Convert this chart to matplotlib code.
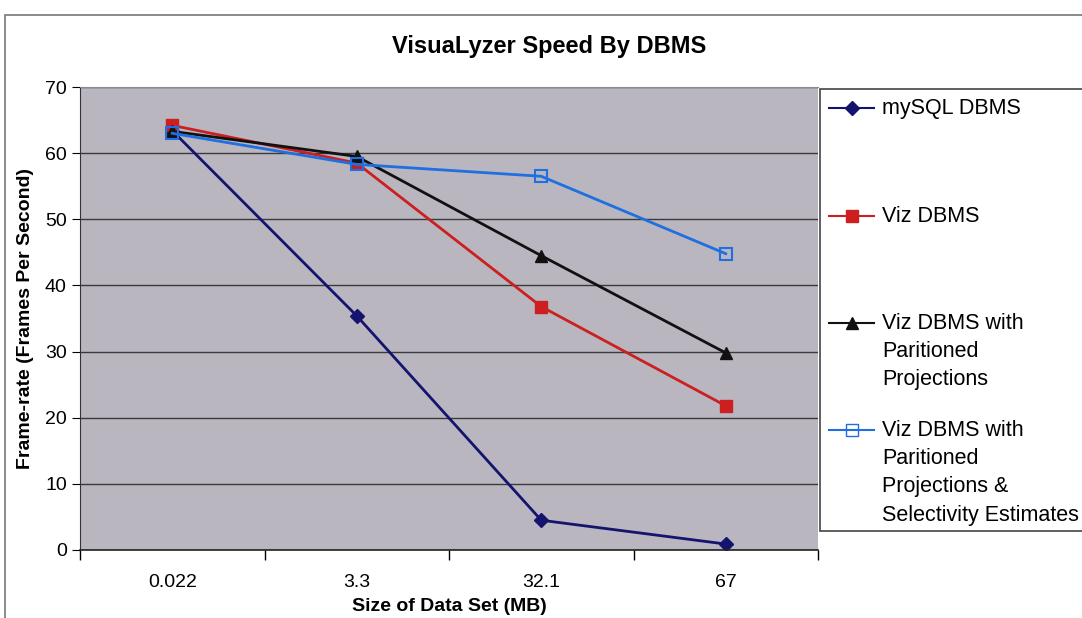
import matplotlib.pyplot as plt
from matplotlib.lines import Line2D
from matplotlib.patches import Rectangle
import numpy as np

plt.rcParams['font.family'] = ['Liberation Sans', 'DejaVu Sans']

# data
sizes = ['0.022', '3.3', '32.1', '67']
mysql = [63.4, 35.4, 4.5, 0.9]
viz = [64.2, 58.5, 36.8, 21.8]
viz_part = [63.3, 59.5, 44.5, 29.8]
viz_sel = [63.0, 58.3, 56.5, 44.8]
labels = ['mySQL DBMS', 'Viz DBMS',
          'Viz DBMS with\nParitioned\nProjections',
          'Viz DBMS with\nParitioned\nProjections &\nSelectivity Estimates']
colors = ['#14146e', '#cc1f1f', '#111111', '#1f6fe0']
markers = ['D', 's', '^', 's']

W, H = 1082, 618
fig = plt.figure(figsize=(W / 100, H / 100), dpi=100)

# outer chart frame
fig.patches.append(Rectangle((5 / W, -0.05), 1.1, 1 - 15 / H + 0.05, transform=fig.transFigure,
                             fill=False, edgecolor='#777777', lw=1.2))

ax = fig.add_axes([80 / W, 1 - 550 / H, 738 / W, 463 / H])
ax.set_facecolor('#bab6c0')
x = np.arange(len(sizes))
series = [mysql, viz, viz_part, viz_sel]
for s, c, m, i in zip(series, colors, markers, range(4)):
    fc = 'none' if i == 3 else c
    ms = 7 if m == 'D' else 8
    ax.plot(x, s, color=c, lw=2, marker=m, ms=ms, mfc=fc, mec=c, mew=1.5 if i == 3 else 1)

ax.set_xlim(-0.5, 3.5)
ax.set_ylim(0, 70)
ax.set_yticks(range(0, 71, 10))
ax.yaxis.grid(True, color='#3a3a3a', lw=1)
ax.set_axisbelow(True)
ax.set_xticks(x)
ax.set_xticklabels(sizes, fontsize=14)
ax.set_xticks(np.arange(-0.5, 3.6, 1), minor=True)
ax.tick_params(axis='x', which='major', length=0, pad=17)
ax.tick_params(axis='x', which='minor', length=7, width=1, direction='out')
ax.tick_params(axis='y', labelsize=14, length=6, direction='out')
ax.spines['right'].set_visible(False)
ax.spines['top'].set_color('#8a8a8a')
ax.spines['left'].set_color('#333333')
ax.spines['bottom'].set_color('#222222')
ax.spines['bottom'].set_linewidth(1.2)
ax.set_xlabel('Size of Data Set (MB)', fontsize=14, fontweight='bold', labelpad=5)
ax.set_ylabel('Frame-rate (Frames Per Second)', fontsize=14, fontweight='bold', labelpad=8)

fig.text(549 / W, 1 - 47 / H, 'VisuaLyzer Speed By DBMS', fontsize=17, fontweight='bold',
         ha='center', va='center')

# legend box, drawn by hand so handles sit on the first text line
fig.patches.append(Rectangle((820 / W, 1 - 531 / H), 0.3, 442 / H, transform=fig.transFigure,
                             facecolor='white', edgecolor='#444444', lw=1.2))
leg_y = [108, 216, 323, 430]
for lab, c, m, i, yy in zip(labels, colors, markers, range(4), leg_y):
    fy = 1 - yy / H
    fig.lines.append(Line2D([829 / W, 874 / W], [fy, fy], transform=fig.transFigure, color=c, lw=1.5))
    fig.lines.append(Line2D([851.5 / W], [fy], transform=fig.transFigure, color=c, lw=0,
                            marker=m, ms=8 if m != 'D' else 7, mfc='none' if i == 3 else c, mec=c))
    fig.text(882 / W, fy + 10 / H, lab, fontsize=15.5, ha='left', va='top', linespacing=1.45)

fig.savefig('out.png', dpi=100)
